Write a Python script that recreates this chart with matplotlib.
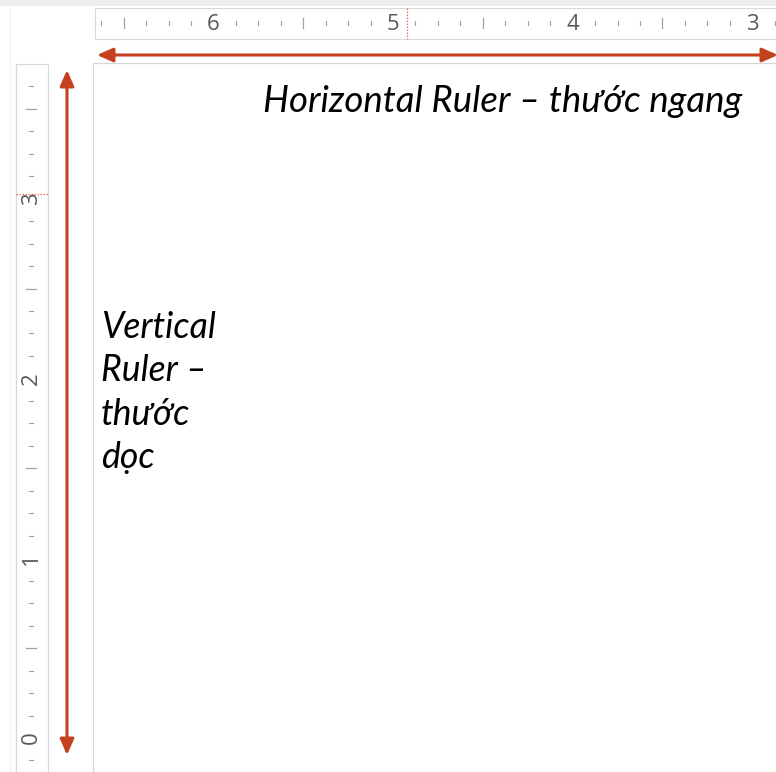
import numpy as np
import matplotlib
matplotlib.use("Agg")
import matplotlib.pyplot as plt
from matplotlib.patches import Rectangle, FancyArrowPatch

# what the screenshot shows
h_labels = [6, 5, 4, 3]
v_labels = [3, 2, 1, 0]
h_title = "Horizontal Ruler – thước ngang"
v_title = ["Vertical", "Ruler –", "thước", "dọc"]

W, H = 776, 772
RED = "#C4411F"
TICK = "#A0A0A0"
BORDER = "#D9D9D9"
FONT = ["Open Sans", "DejaVu Sans"]
CAP_FONT = ["Lato", "Roboto", "DejaVu Sans"]


def hx(v):
    # horizontal ruler runs right to left
    return 393 + (5 - v) * 179.6


def vy(v):
    return 738 - v * 179.8


fig = plt.figure(figsize=(W / 100, H / 100), dpi=100)
ax = fig.add_axes([0, 0, 1, 1])
ax.set_xlim(0, W)
ax.set_ylim(H, 0)
ax.axis("off")

# window chrome
ax.add_patch(Rectangle((0, 0), W, 6, fc="#EEEEEE", ec="none"))
ax.plot([10, 10], [6, H], color="#F1F1F1", lw=0.8)

# horizontal ruler
ax.add_patch(Rectangle((95, 7.5), W, 31.5, fc="white", ec=BORDER, lw=0.9))
for k in range(23, 54):
    if k % 8 == 0:
        continue
    x = hx(k / 8)
    if k % 4 == 0:
        ax.plot([x, x], [18, 27.5], color=TICK, lw=0.9)
    else:
        ax.plot([x, x], [21, 25], color=TICK, lw=0.8)
for v in h_labels:
    ax.text(hx(v), 24.5, str(v), ha="center", va="center", fontsize=16,
            color="#585858", family=FONT)
ax.plot([407, 407], [8, 39], color="#EC6F5C", lw=0.9, ls=(0, (1.2, 1.2)))

# vertical ruler
ax.add_patch(Rectangle((16, 64), 32, H, fc="white", ec=BORDER, lw=0.9))
for k in range(-1, 30):
    if k % 8 == 0:
        continue
    y = vy(k / 8)
    if k % 4 == 0:
        ax.plot([26, 36], [y, y], color=TICK, lw=0.9)
    else:
        ax.plot([29, 33], [y, y], color=TICK, lw=0.8)
for v in v_labels:
    ax.text(31.5, vy(v), str(v), ha="center", va="center", fontsize=16,
            color="#585858", family=FONT, rotation=90)
ax.plot([16, 48], [194, 194], color="#EC6F5C", lw=0.9, ls=(0, (1.2, 1.2)))

# slide area
ax.add_patch(Rectangle((93, 63), W, H, fc="white", ec="#D6D6D6", lw=0.9))

# arrows
style = "<|-|>,head_length=0.95,head_width=0.42"
ax.add_patch(FancyArrowPatch((97, 55), (778, 55), arrowstyle=style,
                             mutation_scale=10, lw=2.2, color=RED,
                             shrinkA=0, shrinkB=0))
ax.add_patch(FancyArrowPatch((67, 70), (67, 755), arrowstyle=style,
                             mutation_scale=10, lw=2.2, color=RED,
                             shrinkA=0, shrinkB=0))

# captions, scaled so their widths match the screenshot
t1 = ax.text(263, 112, h_title, ha="left", va="baseline", fontsize=24,
             style="italic", family=CAP_FONT, color="black")
lines = []
for i, s in enumerate(v_title):
    lines.append(ax.text(101, 338 + i * 43.3, s, ha="left", va="baseline",
                         fontsize=24, style="italic", family=CAP_FONT,
                         color="black"))

fig.canvas.draw()
r = fig.canvas.get_renderer()
w1 = t1.get_window_extent(r).width
t1.set_fontsize(24 * 480 / w1)
w2 = lines[0].get_window_extent(r).width
for t in lines:
    t.set_fontsize(24 * 115 / w2)

fig.savefig("out.png", dpi=100)
